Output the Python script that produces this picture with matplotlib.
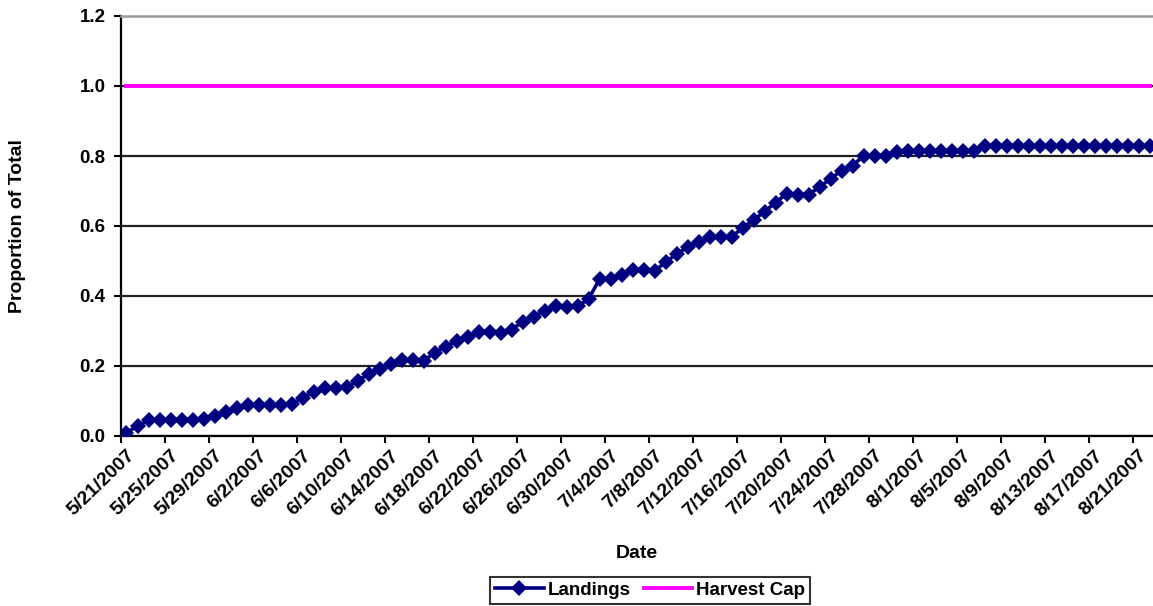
import pandas as pd
import matplotlib
matplotlib.use('Agg')
import matplotlib.pyplot as plt

plt.rcParams['font.family'] = ['Liberation Sans', 'DejaVu Sans']
plt.rcParams['font.weight'] = 'bold'
plt.rcParams['axes.labelweight'] = 'bold'

# daily cumulative landings as a share of the total allowed
start_date = '2007-05-21'
landings = [
    0.010, 0.028, 0.045, 0.046, 0.046, 0.046, 0.046, 0.048, 0.058, 0.070,
    0.081, 0.090, 0.089, 0.089, 0.089, 0.092, 0.108, 0.127, 0.138, 0.137,
    0.141, 0.157, 0.177, 0.191, 0.207, 0.216, 0.216, 0.214, 0.238, 0.255,
    0.271, 0.283, 0.297, 0.296, 0.295, 0.304, 0.326, 0.341, 0.357, 0.371,
    0.369, 0.371, 0.391, 0.448, 0.448, 0.460, 0.474, 0.474, 0.472, 0.496,
    0.520, 0.540, 0.553, 0.569, 0.569, 0.568, 0.595, 0.617, 0.641, 0.667,
    0.692, 0.690, 0.690, 0.711, 0.735, 0.758, 0.772, 0.801, 0.800, 0.799,
    0.811, 0.814, 0.815, 0.815, 0.815, 0.815, 0.815, 0.815, 0.829, 0.829,
    0.829, 0.829, 0.829, 0.829, 0.829, 0.829, 0.829, 0.829, 0.829, 0.829,
    0.829, 0.829, 0.829, 0.829,
]
harvest_cap = [1.0] * len(landings)
y_ticks = [0.0, 0.2, 0.4, 0.6, 0.8, 1.0, 1.2]
label_every = 4

dates = pd.date_range(start_date, periods=len(landings), freq='D')
date_labels = [f"{d.month}/{d.day}/{d.year}" for d in dates]
x = list(range(len(landings)))

fig = plt.figure(figsize=(11.53, 6.06), dpi=100)
W, H = 1153, 606
ax = fig.add_axes([121 / W, (H - 436) / H, 1034 / W, 420 / H])

ax.plot(x, harvest_cap, color='#ff00ff', lw=2.8, label='Harvest Cap', zorder=3)
ax.plot(x, landings, color='#000080', lw=2.6, marker='D', markersize=8.5,
        markeredgewidth=0, label='Landings', zorder=4)

ax.set_xlim(-0.5, len(landings) - 0.5)
ax.set_ylim(0, 1.2)
ax.set_yticks(y_ticks)
ax.set_yticklabels([f"{v:.1f}" for v in y_ticks], fontsize=13.5)
ax.yaxis.grid(True, color='#222222', lw=1.6)
ax.set_axisbelow(True)

# labels sit on the categories, tick marks fall between them
ax.set_xticks(x[::label_every])
ax.set_xticklabels(date_labels[::label_every], rotation=44, ha='right',
                   va='top', rotation_mode='anchor', fontsize=14)
ax.set_xticks([i - 0.5 for i in x[::label_every]], minor=True)
ax.tick_params(axis='x', which='major', length=0, pad=8)
ax.tick_params(axis='x', which='minor', length=5, width=1.5, direction='out')
ax.tick_params(axis='y', length=5, width=1.5, pad=6)

for side in ['left', 'bottom']:
    ax.spines[side].set_color('black')
    ax.spines[side].set_linewidth(1.6)
ax.spines['top'].set_color('#9a9a9a')
ax.spines['top'].set_linewidth(1.8)
ax.spines['right'].set_visible(False)

ax.set_xlabel('Date', fontsize=14)
ax.xaxis.label.set_va('center')
ax.xaxis.set_label_coords((637 - 121) / 1034, (436 - 553) / 420)
ax.set_ylabel('Proportion of Total', fontsize=14)
ax.yaxis.label.set_va('center')
ax.yaxis.set_label_coords((18 - 121) / 1034, 0.5)

handles, labels = ax.get_legend_handles_labels()
leg = fig.legend(handles[::-1], labels[::-1], loc='upper center', ncol=2,
                 bbox_to_anchor=(650 / W, (H - 577) / H), fontsize=13.5,
                 frameon=True, fancybox=False, edgecolor='black',
                 handlelength=2.6, handletextpad=0.2, columnspacing=0.7,
                 borderpad=0.25, borderaxespad=0)
leg.get_frame().set_linewidth(1.5)

fig.savefig('out.png', dpi=100)
